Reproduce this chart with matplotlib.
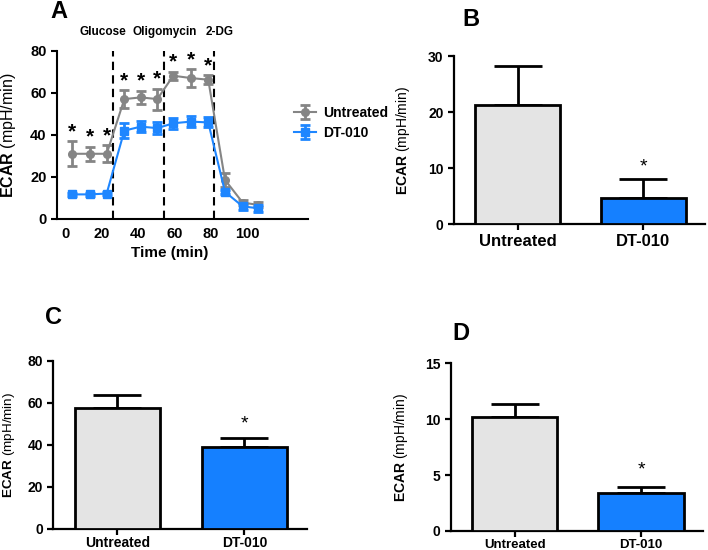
import matplotlib
matplotlib.use('Agg')
import matplotlib.pyplot as plt
import matplotlib.transforms as mtransforms

plt.rcParams['font.family'] = ['Liberation Sans', 'DejaVu Sans']
plt.rcParams['mathtext.fontset'] = 'custom'
plt.rcParams['mathtext.rm'] = 'Liberation Sans'
plt.rcParams['mathtext.bf'] = 'Liberation Sans:bold'

# Panel A: ECAR time course
time_min = [3.7, 13.7, 22.9, 32.6, 41.6, 50.7, 59.5, 69.1, 78.7, 87.9, 97.6, 106.2]
untreated_mean = [31, 31, 31, 57, 57.8, 57, 68.1, 67, 66.2, 18.6, 7.8, 6.7]
untreated_sem = [6, 3.3, 4, 4.2, 3.2, 5, 2, 4.3, 2.1, 3.2, 1.2, 1.2]
dt010_mean = [11.7, 11.7, 12.1, 42, 43.9, 43.2, 45.5, 46.3, 45.9, 12.9, 6, 5.1]
dt010_sem = [0.8, 0.8, 0.8, 3.5, 2.5, 2.7, 2.6, 2.8, 2.4, 0.8, 1.6, 1.6]
n_significant = 9
injection_times = [26.5, 54.5, 82]
injection_names = ['Glucose', 'Oligomycin', '2-DG']
injection_label_x = [20.9, 54.9, 85.2]

# Panels B, C, D: bar summaries
groups = ['Untreated', 'DT-010']
b_mean = [21.3, 4.7]
b_err = [6.9, 3.3]
c_mean = [57.3, 38.7]
c_err = [6.4, 4.6]
d_mean = [10.2, 3.43]
d_err = [1.16, 0.47]

gray = '#858585'
blue = '#1e86ff'
bar_colors = ['#e4e4e4', '#1580ff']
ylab = r'$\mathbf{ECAR}$ (mpH/min)'

fig = plt.figure(figsize=(7.08, 5.5), dpi=100)


def style_axes(ax, lw=1.5):
    for s in ['top', 'right']:
        ax.spines[s].set_visible(False)
    for s in ['left', 'bottom']:
        ax.spines[s].set_linewidth(lw)
    ax.tick_params(axis='y', direction='out', length=4, width=lw)
    ax.tick_params(axis='x', direction='out', length=4, width=lw)


# ---- Panel A ----
axA = fig.add_axes([57 / 708, 1 - 219 / 550, 251 / 708, 168.3 / 550])
style_axes(axA)
axA.errorbar(time_min, untreated_mean, yerr=untreated_sem, color=gray, marker='o',
             markersize=5.5, lw=1.5, elinewidth=2, capsize=3.5, capthick=2, label='Untreated')
axA.errorbar(time_min, dt010_mean, yerr=dt010_sem, color=blue, marker='s',
             markersize=5.5, lw=1.5, elinewidth=2, capsize=3.5, capthick=2, label='DT-010')
for t in injection_times:
    axA.axvline(t, ymin=0, ymax=1, color='black', ls=(0, (4, 2.5)), lw=1.5)
for i in range(n_significant):
    axA.text(time_min[i], untreated_mean[i] + untreated_sem[i] + 4.5, '*',
             ha='center', va='center', fontsize=15, fontweight='bold')
trans = mtransforms.blended_transform_factory(axA.transData, axA.transAxes)
for name, x in zip(injection_names, injection_label_x):
    axA.text(x, 1.11, name, transform=trans, ha='center', va='center',
             fontsize=8.5, fontweight='bold')
axA.set_xlim(-4.4, 133.5)
axA.set_ylim(0, 80)
axA.set_yticks([0, 20, 40, 60, 80])
axA.set_xticks([0, 20, 40, 60, 80, 100])
axA.tick_params(axis='x', length=0, pad=6)
for lab in axA.get_xticklabels() + axA.get_yticklabels():
    lab.set_fontsize(10.5)
    lab.set_fontweight('bold')
axA.set_xlabel('Time (min)', fontsize=11, fontweight='bold')
axA.xaxis.set_label_coords(0.45, -0.16)
axA.set_ylabel(ylab, fontsize=11.5)
axA.yaxis.set_label_coords(-0.155, 0.5)
leg = axA.legend(loc='center left', bbox_to_anchor=(0.945, 0.57), frameon=False,
                 handlelength=1.6, handletextpad=0.45, labelspacing=0.45,
                 borderpad=0, borderaxespad=0, prop={'weight': 'bold', 'size': 10})


# ---- Bar panels ----
def bar_panel(rect, means, errs, ylim, yticks, star_y, xlab_fs, xpad):
    ax = fig.add_axes(rect)
    style_axes(ax, lw=1.6)
    x = list(range(len(groups)))
    ax.bar(x, means, width=0.675, color=bar_colors, edgecolor='black', linewidth=2, zorder=3)
    ax.errorbar(x, means, yerr=[[0] * len(errs), errs], fmt='none', ecolor='black',
                elinewidth=2, capsize=17, capthick=2, zorder=2)
    ax.text(x[1], star_y, '*', ha='center', va='center', fontsize=14)
    ax.set_xlim(-0.505, 1.49)
    ax.set_ylim(*ylim)
    ax.set_yticks(yticks)
    ax.set_xticks(x)
    ax.set_xticklabels(groups)
    ax.tick_params(axis='x', pad=xpad)
    for lab in ax.get_yticklabels():
        lab.set_fontsize(10)
        lab.set_fontweight('bold')
    for lab in ax.get_xticklabels():
        lab.set_fontsize(xlab_fs)
        lab.set_fontweight('bold')
    ax.set_ylabel(ylab, fontsize=10)
    return ax


axB = bar_panel([454 / 708, 1 - 224 / 550, 251 / 708, 168 / 550], b_mean, b_err,
                (0, 30), [0, 10, 20, 30], 10.2, 12, 3.5)
axB.yaxis.set_label_coords(-0.167, 0.5)
axC = bar_panel([53.3 / 708, 1 - 528.7 / 550, 253.4 / 708, 168 / 550], c_mean, c_err,
                (0, 80), [0, 20, 40, 60, 80], 50, 10, 1.5)
axC.set_ylabel(ylab, fontsize=9.7)
axC.yaxis.set_label_coords(-0.145, 0.5)
axD = bar_panel([450.7 / 708, 1 - 531 / 550, 252.3 / 708, 167.7 / 550], d_mean, d_err,
                (0, 15), [0, 5, 10, 15], 5.45, 9.5, 1.5)
axD.yaxis.set_label_coords(-0.161, 0.5)

# Panel letters
for letter, (px, py) in zip('ABCD', [(59, 12), (471, 20), (54, 318), (461, 333)]):
    fig.text(px / 708, 1 - py / 550, letter, ha='center', va='center',
             fontsize=17, fontweight='bold')

fig.savefig('out.png', dpi=100)
